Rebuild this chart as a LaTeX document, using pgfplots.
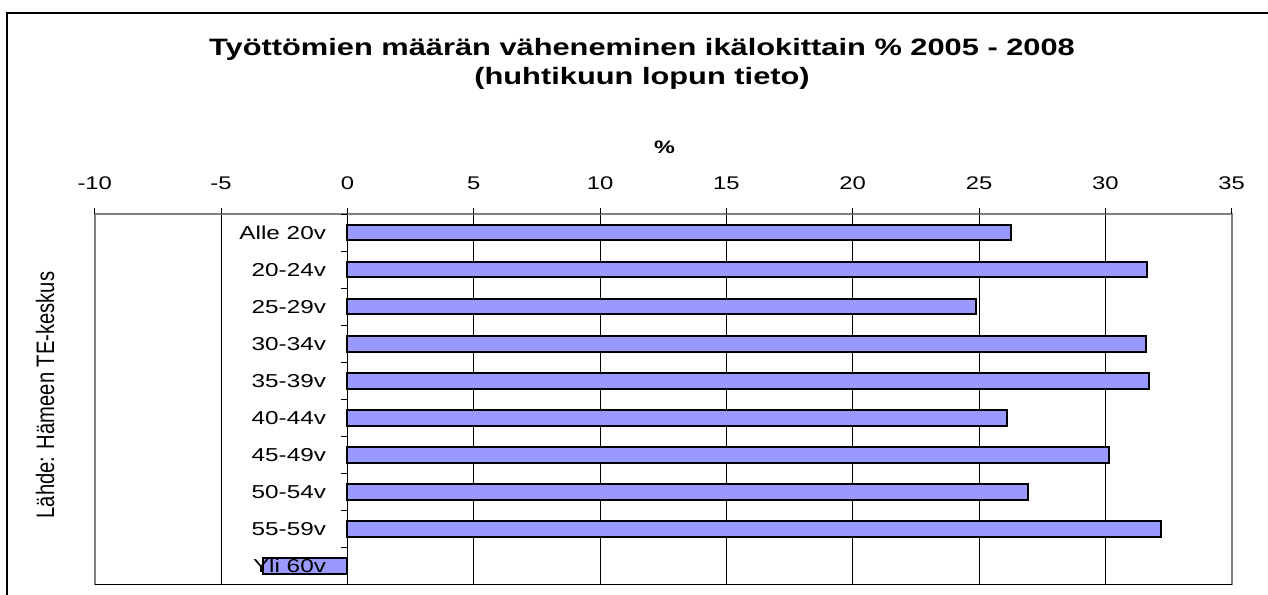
\documentclass[border=0pt]{standalone}
\usepackage{graphicx}
\usepackage{fontspec}
\setmainfont{Liberation Sans}
\newfontfamily\wf[FakeStretch=1.3]{Liberation Sans}
\usepackage{pgfplots}
\pgfplotsset{compat=1.18}
\definecolor{barblue}{HTML}{9999FF}
\pgfplotsset{
  base/.style={
    at={(47.35pt,-107pt)}, anchor=north west,
    width=568.5pt, height=185.25pt, scale only axis,
    xmin=-10, xmax=35, ymin=-0.5, ymax=9.5, y dir=reverse,
    axis line style={-, black, line width=0.5pt},
    every outer x axis line/.append style={-},
    every inner y axis line/.append style={-},
    every outer y axis line/.append style={-},
    every inner x axis line/.append style={-},
    tick align=outside, major tick length=3pt,
    tick style={black, line width=0.5pt},
    clip=false,
  }
}
\begin{document}
\begin{tikzpicture}
\path (0,0) rectangle (634pt,-297pt);
\begin{pgfinterruptboundingbox}
\draw[line width=1.2pt] (3.5pt,-310pt) -- (3.5pt,-6.35pt) -- (650pt,-6.35pt);
\node[anchor=base, font=\wf\bfseries\fontsize{11.85pt}{14pt}\selectfont] at (321pt,-27.85pt) {Työttömien määrän väheneminen ikälokittain \% 2005 - 2008};
\node[anchor=base, font=\wf\bfseries\fontsize{11.85pt}{14pt}\selectfont] at (321pt,-42pt) {(huhtikuun lopun tieto)};
\node[anchor=base, font=\wf\bfseries\fontsize{9pt}{11pt}\selectfont] at (332.25pt,-76.65pt) {\%};
\node[rotate=90, font=\fontsize{10.1pt}{12pt}\selectfont] at (22.5pt,-197.5pt) {\scalebox{1}[1.25]{Lähde: Hämeen TE-keskus}};
\begin{axis}[base,
  axis x line*=top, axis y line*=middle,
  xtick={-10,-5,0,5,10,15,20,25,30,35},
  xticklabels={-10,-5,0,5,10,15,20,25,30,35},
  xmajorgrids, major grid style={black, line width=0.4pt},
  xticklabel style={font=\wf\fontsize{9.15pt}{11pt}\selectfont, anchor=base, inner sep=0pt, yshift=9.35pt},
  ytick=\empty,
]
\addplot[xbar, bar width=7.85pt, fill=barblue, draw=black, line width=1pt]
  coordinates {(26.25,0) (31.66,1) (24.88,2) (31.59,3) (31.74,4) (26.10,5) (30.14,6) (26.93,7) (32.20,8) (-3.34,9)};
\draw[gray, line width=1pt] (rel axis cs:0,0) -- (rel axis cs:0,1) -- (rel axis cs:1,1) -- (rel axis cs:1,0);
\draw[black, line width=0.6pt] (rel axis cs:0,0) -- (rel axis cs:1,0);
\draw[black, line width=0.5pt] (axis cs:-10,-0.5) -- ++(0pt,3pt) (axis cs:-5,-0.5) -- ++(0pt,3pt)
  (axis cs:0,-0.5) -- ++(0pt,3pt) (axis cs:5,-0.5) -- ++(0pt,3pt) (axis cs:10,-0.5) -- ++(0pt,3pt)
  (axis cs:15,-0.5) -- ++(0pt,3pt) (axis cs:20,-0.5) -- ++(0pt,3pt) (axis cs:25,-0.5) -- ++(0pt,3pt)
  (axis cs:30,-0.5) -- ++(0pt,3pt) (axis cs:35,-0.5) -- ++(0pt,3pt);
\draw[black, line width=0.5pt] (axis cs:0,-0.5) -- ++(-3.3pt,0pt) (axis cs:0,0.5) -- ++(-3.3pt,0pt)
  (axis cs:0,1.5) -- ++(-3.3pt,0pt) (axis cs:0,2.5) -- ++(-3.3pt,0pt) (axis cs:0,3.5) -- ++(-3.3pt,0pt)
  (axis cs:0,4.5) -- ++(-3.3pt,0pt) (axis cs:0,5.5) -- ++(-3.3pt,0pt) (axis cs:0,6.5) -- ++(-3.3pt,0pt)
  (axis cs:0,7.5) -- ++(-3.3pt,0pt) (axis cs:0,8.5) -- ++(-3.3pt,0pt) (axis cs:0,9.5) -- ++(-3.3pt,0pt);
\end{axis}
\begin{axis}[base,
  axis x line=none, axis y line*=middle,
  y axis line style={draw=none},
  ytick={0,1,2,3,4,5,6,7,8,9},
  yticklabels={Alle 20v,20-24v,25-29v,30-34v,35-39v,40-44v,45-49v,50-54v,55-59v,Yli 60v},
  ytick style={draw=none},
  yticklabel style={font=\wf\fontsize{9.35pt}{11pt}\selectfont, anchor=east, inner sep=0pt, xshift=-7.5pt},
]
\end{axis}
\end{pgfinterruptboundingbox}
\end{tikzpicture}
\end{document}
